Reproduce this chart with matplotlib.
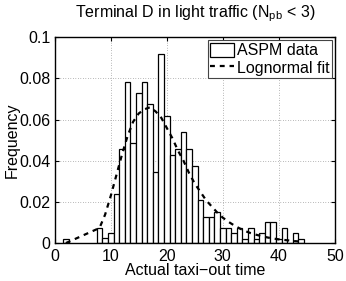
import numpy as np
import matplotlib
matplotlib.use("Agg")
import matplotlib.pyplot as plt

# Histogram bins (centres) and frequencies
bin_centers = [2, 8, 9, 10, 11, 12, 13, 14, 15, 16, 17, 18, 19, 20, 21, 22,
               23, 24, 25, 26, 27, 28, 29, 30, 31, 32, 33, 34, 35, 36, 37,
               38, 39, 40, 41, 42, 43, 44]
freq = [0.0021, 0.0076, 0.0025, 0.0049, 0.024, 0.046, 0.078, 0.0485, 0.073,
        0.078, 0.0675, 0.0348, 0.092, 0.062, 0.0431, 0.0456, 0.0538, 0.0456,
        0.0375, 0.021, 0.013, 0.013, 0.0154, 0.0075, 0.0075, 0.005, 0.0075,
        0.0024, 0.0075, 0.0024, 0.005, 0.0103, 0.0103, 0.0024, 0.0075, 0.0,
        0.005, 0.0024]

# Lognormal fit curve, read at the data points
fit_x = [2, 8, 9, 10, 11, 12, 13, 14, 15, 16, 17, 18, 19, 20, 21, 22, 23,
         24, 25, 26, 27, 28, 29, 30, 31, 32, 33, 34, 35, 36, 37, 38, 39, 40,
         41, 43, 44]
fit_y = [0.0002, 0.0075, 0.014, 0.023, 0.033, 0.043, 0.052, 0.059, 0.063,
         0.065, 0.066, 0.064, 0.061, 0.056, 0.051, 0.045, 0.040, 0.034,
         0.029, 0.025, 0.021, 0.018, 0.015, 0.0125, 0.0105, 0.0088, 0.0073,
         0.006, 0.005, 0.0042, 0.0035, 0.0029, 0.0024, 0.002, 0.0017,
         0.0011, 0.0009]

x_ticks = [0, 10, 20, 30, 40, 50]
y_ticks = [0, 0.02, 0.04, 0.06, 0.08, 0.1]
y_ticklabels = ["0", "0.02", "0.04", "0.06", "0.08", "0.1"]

plt.rcParams["font.family"] = ["Liberation Sans", "DejaVu Sans"]
plt.rcParams["mathtext.default"] = "regular"
plt.rcParams["font.size"] = 11.5

fig = plt.figure(figsize=(3.46, 2.81), dpi=100)
ax = fig.add_axes([0.158, 0.1335, 0.81, 0.7345])

bars = ax.bar(bin_centers, freq, width=1.0, color="white", edgecolor="black",
              linewidth=0.9, label="ASPM data", zorder=2)
line, = ax.plot(fit_x, fit_y, color="black", linestyle=(0, (2.2, 2.2)),
                linewidth=1.6, label="Lognormal fit", zorder=3)

ax.set_xlim(0, 50)
ax.set_ylim(0, 0.1)
ax.set_xticks(x_ticks)
ax.set_yticks(y_ticks)
ax.set_yticklabels(y_ticklabels)
ax.grid(True, linestyle=(0, (0.8, 2.2)), color="#888888", linewidth=0.6, zorder=0)
ax.set_axisbelow(True)
ax.tick_params(direction="in", top=True, right=True, length=3,
               labelsize=11.5)
ax.tick_params(axis="x", pad=4)
ax.tick_params(axis="y", pad=3)
for s in ax.spines.values():
    s.set_linewidth(1.0)

ax.set_xlabel("Actual taxi\u2212out time", labelpad=-1)
ax.set_ylabel("Frequency", labelpad=0)
ax.set_title("Terminal D in light traffic (N$_{pb}$ < 3)", pad=14.5, fontsize=11.5)

leg = ax.legend([bars, line], ["ASPM data", "Lognormal fit"],
                loc="upper right", fancybox=False, framealpha=1,
                edgecolor="#444444", borderaxespad=0.2, handlelength=1.5,
                handleheight=1.0, handletextpad=0.15, borderpad=0.15,
                labelspacing=0.1, fontsize=11.5)
leg.get_frame().set_linewidth(0.8)

fig.savefig("out.png", dpi=100)
